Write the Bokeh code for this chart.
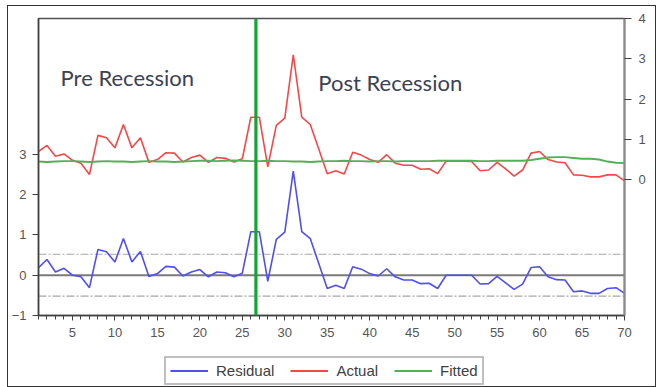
from bokeh.plotting import figure
from bokeh.layouts import column
from bokeh.models import Range1d, LinearAxis, FixedTicker, Span, Label, Legend, LegendItem
from bokeh.embed import file_html
from bokeh.resources import INLINE

obs = list(range(1, 71))
residual = [0.19, 0.39, 0.08, 0.17, 0.00, -0.04, -0.31, 0.64, 0.58, 0.33,
            0.91, 0.33, 0.59, -0.03, 0.04, 0.22, 0.20, -0.02, 0.08, 0.14,
            -0.04, 0.08, 0.06, -0.04, 0.05, 1.08, 1.08, -0.15, 0.89, 1.07,
            2.58, 1.08, 0.91, 0.29, -0.33, -0.25, -0.33, 0.21, 0.15, 0.04,
            -0.02, 0.16, -0.04, -0.12, -0.12, -0.21, -0.20, -0.33, 0.00, 0.00,
            0.00, 0.00, -0.22, -0.21, -0.03, -0.19, -0.35, -0.22, 0.19, 0.21,
            -0.04, -0.11, -0.12, -0.41, -0.39, -0.45, -0.45, -0.33, -0.31, -0.45]
actual = [0.70, 0.85, 0.58, 0.64, 0.48, 0.41, 0.13, 1.10, 1.04, 0.79,
          1.37, 0.79, 1.04, 0.43, 0.50, 0.67, 0.66, 0.44, 0.55, 0.61,
          0.43, 0.55, 0.53, 0.44, 0.52, 1.55, 1.55, 0.32, 1.35, 1.53,
          3.10, 1.55, 1.37, 0.76, 0.15, 0.22, 0.14, 0.68, 0.61, 0.50,
          0.43, 0.62, 0.41, 0.36, 0.36, 0.26, 0.27, 0.15, 0.46, 0.46,
          0.46, 0.45, 0.22, 0.24, 0.43, 0.27, 0.09, 0.24, 0.66, 0.70,
          0.50, 0.44, 0.42, 0.12, 0.11, 0.07, 0.07, 0.12, 0.12, -0.03]
fitted = [0.45, 0.44, 0.45, 0.46, 0.46, 0.45, 0.44, 0.45, 0.46, 0.45,
          0.45, 0.44, 0.45, 0.46, 0.45, 0.45, 0.44, 0.45, 0.46, 0.47,
          0.47, 0.46, 0.47, 0.48, 0.47, 0.46, 0.46, 0.47, 0.46, 0.46,
          0.45, 0.45, 0.44, 0.45, 0.46, 0.46, 0.47, 0.46, 0.46, 0.45,
          0.46, 0.46, 0.45, 0.46, 0.46, 0.46, 0.46, 0.47, 0.47, 0.47,
          0.47, 0.47, 0.46, 0.46, 0.47, 0.47, 0.47, 0.47, 0.49, 0.52,
          0.55, 0.56, 0.56, 0.54, 0.52, 0.52, 0.50, 0.45, 0.42, 0.41]
x_ticks = [5, 10, 15, 20, 25, 30, 35, 40, 45, 50, 55, 60, 65, 70]
left_ticks = [-1, 0, 1, 2, 3]
right_ticks = [0, 1, 2, 3, 4]
se_band = 0.52
break_obs = 26.6
label_pre = "Pre Recession"
label_post = "Post Recession"
series_names = ["Residual", "Actual", "Fitted"]
series_colors = ["#4f4ff5", "#f54848", "#55b055"]

p = figure(frame_width=586, frame_height=297, output_backend="svg", toolbar_location=None,
           x_range=Range1d(1, 70), y_range=Range1d(-1, 6.37),
           min_border_left=29, min_border_right=31, min_border_top=12,
           min_border_bottom=32, y_axis_location=None)
p.extra_y_ranges = {"right": Range1d(-3.37, 4.0)}
p.xgrid.visible = False
p.ygrid.visible = False
p.outline_line_color = "#505050"
p.outline_line_width = 1.5
p.background_fill_color = "white"
p.border_fill_color = "white"

axis_font = "Liberation Sans"
# bottom axis
xa = p.xaxis[0]
xa.ticker = FixedTicker(ticks=x_ticks, minor_ticks=obs)
xa.major_tick_out = 5
xa.major_tick_in = 0
xa.minor_tick_out = 4
xa.minor_tick_in = 0
xa.axis_line_color = "#404040"
xa.axis_line_width = 1.5
xa.major_tick_line_color = "#404040"
xa.minor_tick_line_color = "#404040"
xa.major_label_text_font = axis_font
xa.major_label_text_font_size = "13px"
xa.major_label_text_color = "#555555"
xa.major_label_standoff = 7

# left axis
la = LinearAxis(ticker=FixedTicker(ticks=left_ticks, minor_ticks=[]))
la.major_tick_out = 6
la.major_tick_in = 0
la.minor_tick_out = 0
la.axis_line_color = "#404040"
la.axis_line_width = 1.5
la.major_tick_line_color = "#404040"
la.major_label_text_font = axis_font
la.major_label_text_font_size = "13px"
la.major_label_text_color = "#555555"
la.major_label_standoff = 6
p.add_layout(la, "left")

# right axis
ra = LinearAxis(y_range_name="right", ticker=FixedTicker(ticks=right_ticks, minor_ticks=[]))
ra.major_tick_out = 7
ra.major_tick_in = 0
ra.minor_tick_out = 0
ra.axis_line_color = "#8a8a8a"
ra.axis_line_width = 2
ra.major_tick_line_color = "#404040"
ra.major_label_text_font = axis_font
ra.major_label_text_font_size = "13px"
ra.major_label_text_color = "#555555"
ra.major_label_standoff = 7
p.add_layout(ra, "right")

# reference lines for residual
p.add_layout(Span(location=0, dimension="width", line_color="#7a7a7a",
                  line_width=2, level="underlay"))
for s in (se_band, -se_band):
    p.add_layout(Span(location=s, dimension="width", line_color="#a8a8a8",
                      line_width=1.2, line_dash="8 2 2 2", level="underlay"))

p.line(obs, residual, line_color=series_colors[0], line_width=1.6)
p.line(obs, actual, line_color=series_colors[1], line_width=1.6, y_range_name="right")
p.line(obs, fitted, line_color=series_colors[2], line_width=1.9, y_range_name="right")

p.add_layout(Span(location=break_obs, dimension="height", line_color="#12a534",
                  line_width=3.2))

p.add_layout(Label(x=3.6, y=4.9, text=label_pre, text_font="Lato",
                   text_font_size="22px", text_color="#3b4252",
                   text_baseline="alphabetic"))
p.add_layout(Label(x=33.95, y=4.78, text=label_post, text_font="Lato",
                   text_font_size="22px", text_color="#3b4252",
                   text_baseline="alphabetic"))

# legend strip under the chart (series drawn outside its visible range)
q = figure(width=646, height=39, output_backend="svg", toolbar_location=None,
           x_range=Range1d(-20, -10), y_range=Range1d(0, 1),
           x_axis_location=None, y_axis_location=None, min_border=0)
q.grid.visible = False
q.outline_line_color = None
q.background_fill_color = "white"
q.border_fill_color = "white"
items = []
for name, col, vals in zip(series_names, series_colors, [residual, actual, fitted]):
    r = q.line(obs, vals, line_color=col, line_width=1.8)
    items.append(LegendItem(label=name, renderers=[r]))
legend = Legend(items=items, orientation="horizontal", location=(126, 1),
                border_line_color="#808080", border_line_width=2,
                background_fill_color="white", background_fill_alpha=1,
                label_text_font=axis_font, label_text_font_size="15px",
                label_text_color="#404040", glyph_width=38, glyph_height=15,
                label_height=15, label_standoff=8, spacing=16, padding=4, margin=0)
q.add_layout(legend, "center")

layout = column(p, q, spacing=0,
                styles={"border": "1px solid #333333", "margin-left": "7px",
                        "margin-top": "5px"})

open("out.html", "w").write(file_html(layout, INLINE))
